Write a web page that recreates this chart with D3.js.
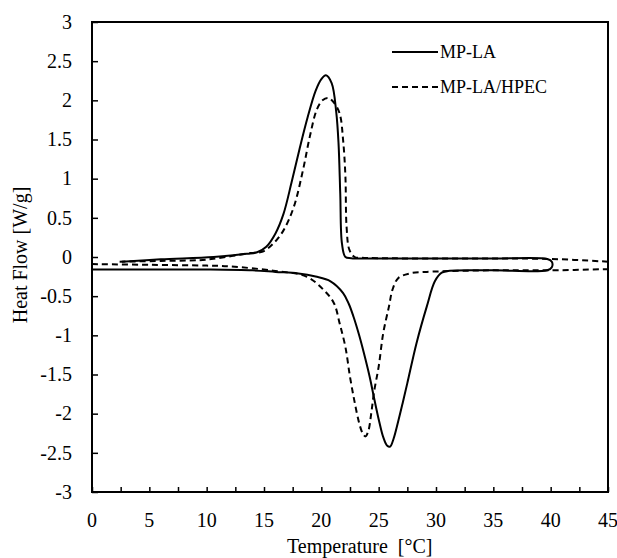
<!DOCTYPE html>
<html>
<head>
<meta charset="utf-8">
<script src="https://cdn.jsdelivr.net/npm/d3@7"></script>
<style>
  body { margin: 0; background: #fff; }
</style>
</head>
<body>
<div id="chart"></div>
<script>
// MP-LA, heating then cooling (solid)
const laHeatT = [0, 5, 10, 14, 16, 18, 19.5, 20.8, 21.9, 22.4, 22.8, 23.3, 23.7, 24.2, 24.6, 25.0, 25.4, 25.75, 26.0, 26.3, 26.7, 27.1, 27.5, 28.3, 29.2, 29.9, 30.5, 31.2, 35, 39.7, 40.1];
const laHeatQ = [-0.16, -0.16, -0.16, -0.17, -0.19, -0.21, -0.25, -0.31, -0.46, -0.60, -0.76, -1.0, -1.22, -1.52, -1.80, -2.07, -2.30, -2.41, -2.42, -2.32, -2.10, -1.86, -1.61, -1.10, -0.63, -0.31, -0.20, -0.175, -0.17, -0.17, -0.13];
const laCoolT = [40.1, 39.7, 35, 30, 25, 22.6, 22.1, 21.8, 21.65, 21.5, 21.3, 20.9, 20.4, 20.0, 19.5, 18.8, 18.1, 17.4, 16.7, 16.0, 15.2, 14.4, 13.5, 10.6, 6, 2.6];
const laCoolQ = [-0.06, -0.025, -0.02, -0.02, -0.018, -0.015, 0.0, 0.17, 0.81, 1.45, 1.85, 2.22, 2.32, 2.27, 2.12, 1.78, 1.38, 0.95, 0.55, 0.30, 0.13, 0.06, 0.04, 0.0, -0.03, -0.06];

// MP-LA/HPEC, heating and cooling (dashed)
const hpHeatT = [0, 5, 10, 12, 15.8, 18.7, 20.2, 21.1, 21.6, 22.1, 22.5, 22.9, 23.3, 23.6, 23.85, 24.1, 24.35, 24.6, 25.0, 25.4, 25.9, 26.2, 26.7, 27.7, 29.2, 35, 40, 45];
const hpHeatQ = [-0.09, -0.10, -0.11, -0.12, -0.175, -0.25, -0.42, -0.59, -0.85, -1.15, -1.53, -1.85, -2.12, -2.25, -2.29, -2.22, -2.0, -1.72, -1.40, -0.97, -0.63, -0.42, -0.27, -0.21, -0.19, -0.17, -0.17, -0.155];
const hpCoolT = [45, 40, 35, 30, 25, 23.5, 22.9, 22.45, 22.2, 22.1, 21.9, 21.6, 21.1, 20.6, 20.1, 19.6, 19.0, 18.4, 17.6, 16.7, 15.8, 14.9, 13.8, 10.9, 9.4, 6, 2.3];
const hpCoolQ = [-0.06, -0.025, -0.02, -0.02, -0.015, -0.01, 0.0, 0.09, 0.39, 1.03, 1.49, 1.83, 1.97, 2.03, 2.0, 1.88, 1.54, 1.11, 0.64, 0.34, 0.17, 0.07, 0.05, -0.017, -0.04, -0.05, -0.06];

const seriesNames = ['MP-LA', 'MP-LA/HPEC'];
const xTicks = d3.range(0, 46, 5);
const xMinor = d3.range(0, 45.1, 2.5);
const yTicks = d3.range(-3, 3.01, 0.5);

const [svgWidth, svgHeight] = [617, 558];
const margin = { left: 92, right: 9, top: 22, bottom: 66 };
const [width, height] = [svgWidth - margin.left - margin.right, svgHeight - margin.top - margin.bottom];
const serif = '"Liberation Serif", "DejaVu Serif", "Times New Roman", serif';

function translate(x, y) {
    return 'translate(' + x + ',' + y + ')';
}

const zip = (ts, qs) => ts.map((t, i) => [t, qs[i]]);

let svg = d3.select('#chart').append('svg')
    .attr('width', svgWidth)
    .attr('height', svgHeight)
    .attr('font-family', serif)
    .style('font-family', serif);

let g = svg.append('g').attr('transform', translate(margin.left, margin.top));

let xScale = d3.scaleLinear().domain([0, 45]).range([0, width]);
let yScale = d3.scaleLinear().domain([-3, 3]).range([height, 0]);

// axes: ticks pointing inward
let xAxis = g.append('g')
    .attr('transform', translate(0, height))
    .call(d3.axisBottom(xScale).tickValues(xMinor).tickSizeInner(-5).tickSizeOuter(0).tickFormat(''));
xAxis.select('.domain').remove();
xAxis.selectAll('line').attr('stroke', '#000').attr('stroke-width', 1.5);

g.selectAll('.xlab').data(xTicks).enter().append('text')
    .attr('x', d => xScale(d))
    .attr('y', height + 35)
    .attr('text-anchor', 'middle')
    .attr('font-size', 20)
    .text(d => d);

let yAxis = g.append('g')
    .call(d3.axisLeft(yScale).tickValues(yTicks).tickSizeInner(-6).tickSizeOuter(0).tickFormat(''));
yAxis.select('.domain').remove();
yAxis.selectAll('line').attr('stroke', '#000').attr('stroke-width', 1.5);

g.selectAll('.ylab').data(yTicks).enter().append('text')
    .attr('x', -20)
    .attr('y', d => yScale(d))
    .attr('dy', '0.34em')
    .attr('text-anchor', 'end')
    .attr('font-size', 20)
    .text(d => String(Math.round(d * 10) / 10));

// frame
g.append('rect')
    .attr('width', width)
    .attr('height', height)
    .attr('fill', 'none')
    .attr('stroke', '#000')
    .attr('stroke-width', 2);

let line = d3.line()
    .x(d => xScale(d[0]))
    .y(d => yScale(d[1]))
    .curve(d3.curveCatmullRom.alpha(0.5));

g.append('path')
    .datum(zip(laHeatT, laHeatQ).concat(zip(laCoolT, laCoolQ)))
    .attr('fill', 'none')
    .attr('stroke', '#000')
    .attr('stroke-width', 2)
    .attr('d', line);

[zip(hpHeatT, hpHeatQ), zip(hpCoolT, hpCoolQ)].forEach(data => {
    g.append('path')
        .datum(data)
        .attr('fill', 'none')
        .attr('stroke', '#000')
        .attr('stroke-width', 2)
        .attr('stroke-dasharray', '6,4')
        .attr('d', line);
});

// legend
let legend = g.append('g').attr('transform', translate(300, 30));
seriesNames.forEach((name, i) => {
    let row = legend.append('g').attr('transform', translate(0, i * 35));
    row.append('line')
        .attr('x1', 0).attr('x2', 46)
        .attr('stroke', '#000')
        .attr('stroke-width', 2)
        .attr('stroke-dasharray', i === 1 ? '6,4' : null);
    row.append('text')
        .attr('x', 48)
        .attr('dy', '0.34em')
        .attr('font-size', 18)
        .text(name);
});

// axis titles
svg.append('text')
    .attr('x', 287)
    .attr('y', 553)
    .attr('font-size', 20)
    .attr('xml:space', 'preserve')
    .style('white-space', 'pre')
    .text('Temperature  [°C]');

svg.append('text')
    .attr('transform', translate(27, 255) + ' rotate(-90)')
    .attr('text-anchor', 'middle')
    .attr('font-size', 20)
    .text('Heat Flow [W/g]');
</script>
</body>
</html>
